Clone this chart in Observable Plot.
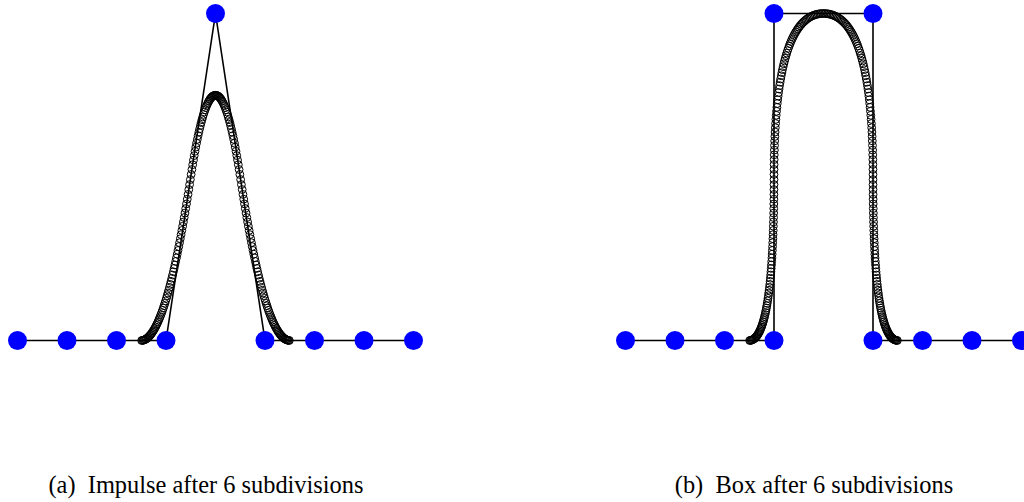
<!DOCTYPE html>
<html>
<head>
<meta charset="utf-8">
<script src="https://cdn.jsdelivr.net/npm/d3@7"></script>
<script src="https://cdn.jsdelivr.net/npm/@observablehq/plot@0.6"></script>
<style>
  html, body { margin: 0; padding: 0; background: #fff; overflow: hidden; }
  #wrap { position: relative; width: 1024px; height: 502px; }
  .panel { position: absolute; top: 0; }
  .cap { position: absolute; width: 420px; text-align: center; font-family: "Liberation Serif", "Times New Roman", serif;
         font-size: 24.4px; line-height: 27px; color: #000; white-space: pre; }
</style>
</head>
<body>
<div id="wrap"></div>
<script>
// Control polygon of the impulse (panel a)
const impulseX = [0, 1, 2, 3, 4, 5, 6, 7, 8];
const impulseY = [0, 0, 0, 0, 1, 0, 0, 0, 0];
// Control polygon of the box (panel b)
const boxX = [0, 1, 2, 3, 3, 5, 5, 6, 7, 8];
const boxY = [0, 0, 0, 0, 1, 1, 0, 0, 0, 0];
// Number of corner-cutting subdivision steps shown
const subdivisions = 6;
// Range of the polygon affected by the subdivision (plotted as circles)
const activeRange = [2.5, 5.5];
const captions = ["(a)  Impulse after 6 subdivisions", "(b)  Box after 6 subdivisions"];

function toPoints(xs, ys) { return xs.map((x, i) => ({x, y: ys[i]})); }

// Chaikin corner cutting, applied to the control polygon
function subdivide(pts, n) {
  let p = pts;
  for (let k = 0; k < n; k++) {
    const q = [];
    for (let i = 0; i < p.length - 1; i++) {
      const a = p[i], b = p[i + 1];
      q.push({x: 0.75 * a.x + 0.25 * b.x, y: 0.75 * a.y + 0.25 * b.y});
      q.push({x: 0.25 * a.x + 0.75 * b.x, y: 0.25 * a.y + 0.75 * b.y});
    }
    p = q;
  }
  return p.filter(d => d.x >= activeRange[0] - 1e-9 && d.x <= activeRange[1] + 1e-9);
}

function panel(ctrl, left, ml, mr) {
  const curve = subdivide(ctrl, subdivisions);
  const chart = Plot.plot({
    width: 512, height: 420,
    marginLeft: ml, marginRight: mr, marginTop: 13, marginBottom: 80,
    x: {domain: [0, 8], axis: null},
    y: {domain: [0, 1], axis: null},
    style: {overflow: "visible", background: "transparent"},
    marks: [
      Plot.line(ctrl, {x: "x", y: "y", stroke: "black", strokeWidth: 1.6}),
      Plot.dot(curve, {x: "x", y: "y", r: 3.9, stroke: "black", strokeWidth: 1, fill: "none"}),
      Plot.dot(ctrl, {x: "x", y: "y", r: 9.5, fill: "#0000ff", stroke: "none"})
    ]
  });
  chart.classList.add("panel");
  chart.style.left = left + "px";
  document.getElementById("wrap").appendChild(chart);
}

panel(toPoints(impulseX, impulseY), 0, 17, 99);
panel(toPoints(boxX, boxY), 512, 113, 3);

const centers = [206, 814];
captions.forEach((t, i) => {
  const d = document.createElement("div");
  d.className = "cap";
  d.textContent = t;
  d.style.left = (centers[i] - 210) + "px";
  d.style.top = "471px";
  document.getElementById("wrap").appendChild(d);
});
</script>
</body>
</html>
